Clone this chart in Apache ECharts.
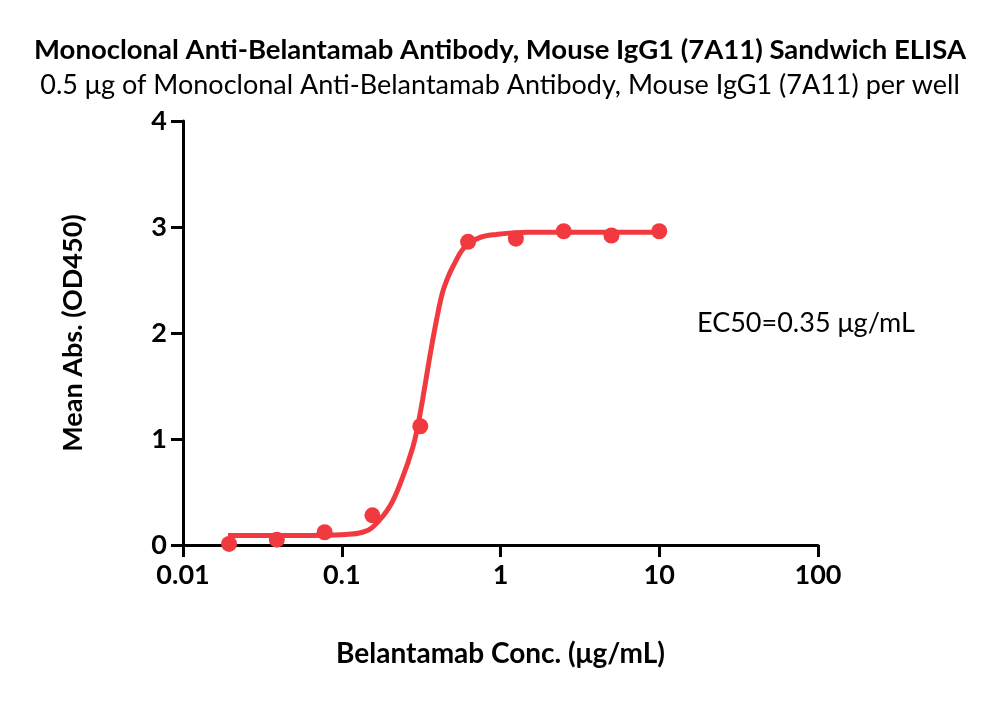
<!DOCTYPE html>
<html>
<head>
<meta charset="utf-8">
<style>
  html, body { margin: 0; padding: 0; background: #fff; }
  #main { width: 1000px; height: 725px; }
</style>
<script src="https://cdn.jsdelivr.net/npm/echarts@6/dist/echarts.min.js"></script>
</head>
<body>
<div id="main"></div>
<script>
// measured points (conc in μg/mL, mean OD450)
var concs = [0.0195, 0.039, 0.078, 0.156, 0.3125, 0.625, 1.25, 2.5, 5, 10];
var absMean = [0.01, 0.05, 0.12, 0.28, 1.12, 2.86, 2.89, 2.96, 2.92, 2.96];

// fitted curve
var fitConc = [0.0192, 0.0545, 0.107, 0.135, 0.157, 0.20, 0.242, 0.28, 0.30, 0.323, 0.357, 0.395, 0.431, 0.465, 0.499, 0.594, 0.738, 0.944, 1.5, 10];
var fitAbs = [0.09, 0.09, 0.10, 0.12, 0.17, 0.36, 0.64, 0.92, 1.11, 1.37, 1.76, 2.12, 2.38, 2.52, 2.62, 2.81, 2.90, 2.93, 2.95, 2.95];

var yTicks = [0, 1, 2, 3, 4];

var red = '#F03A40';
var font = 'Lato';

function pairs(xs, ys) {
  return xs.map(function (x, i) { return [x, ys[i]]; });
}

var myChart = echarts.init(document.getElementById('main'));
myChart.setOption({
  backgroundColor: '#fff',
  animation: false,
  title: [{
    text: 'Monoclonal Anti-Belantamab Antibody, Mouse IgG1 (7A11) Sandwich ELISA',
    left: 'center',
    top: 31,
    textStyle: { fontFamily: font, fontSize: 27.5, fontWeight: 'bold', color: '#000' }
  }, {
    text: '0.5 μg of Monoclonal Anti-Belantamab Antibody, Mouse IgG1 (7A11) per well',
    left: 'center',
    top: 67,
    textStyle: { fontFamily: font, fontSize: 27, fontWeight: 'normal', color: '#000' }
  }],
  grid: { left: 183, right: 182, top: 121, bottom: 180 },
  xAxis: {
    type: 'log',
    logBase: 10,
    min: 0.01,
    max: 100,
    name: 'Belantamab Conc. (μg/mL)',
    nameLocation: 'middle',
    nameGap: 95,
    nameTextStyle: { fontFamily: font, fontSize: 28, fontWeight: 'bold', color: '#000' },
    axisLine: { lineStyle: { color: '#000', width: 3 } },
    axisTick: { length: 12, lineStyle: { color: '#000', width: 3 } },
    minorTick: { show: false },
    splitLine: { show: false },
    axisLabel: {
      margin: 17,
      fontFamily: font, fontSize: 27, fontWeight: 'bold', color: '#000',
      formatter: function (v) { return String(+v.toPrecision(3)); }
    }
  },
  yAxis: {
    type: 'value',
    min: yTicks[0],
    max: yTicks[yTicks.length - 1],
    interval: 1,
    name: 'Mean Abs. (OD450)',
    nameLocation: 'middle',
    nameGap: 96,
    nameTextStyle: { fontFamily: font, fontSize: 27, fontWeight: 'bold', color: '#000' },
    axisLine: { show: true, lineStyle: { color: '#000', width: 3 } },
    axisTick: { show: true, length: 12, lineStyle: { color: '#000', width: 3 } },
    splitLine: { show: false },
    axisLabel: {
      margin: 16,
      fontFamily: font, fontSize: 27, fontWeight: 'bold', color: '#000'
    }
  },
  graphic: [{
    type: 'text',
    left: 697,
    top: 310,
    style: { text: 'EC50=0.35 μg/mL', font: '27px Lato', fill: '#000' }
  }],
  series: [{
    name: 'fit',
    type: 'line',
    data: pairs(fitConc, fitAbs),
    smooth: 0.4,
    showSymbol: false,
    lineStyle: { color: red, width: 5 },
    z: 2
  }, {
    name: 'data',
    type: 'scatter',
    data: pairs(concs, absMean),
    symbol: 'circle',
    symbolSize: 16,
    itemStyle: { color: red, opacity: 1 },
    z: 3
  }]
});
</script>
</body>
</html>
